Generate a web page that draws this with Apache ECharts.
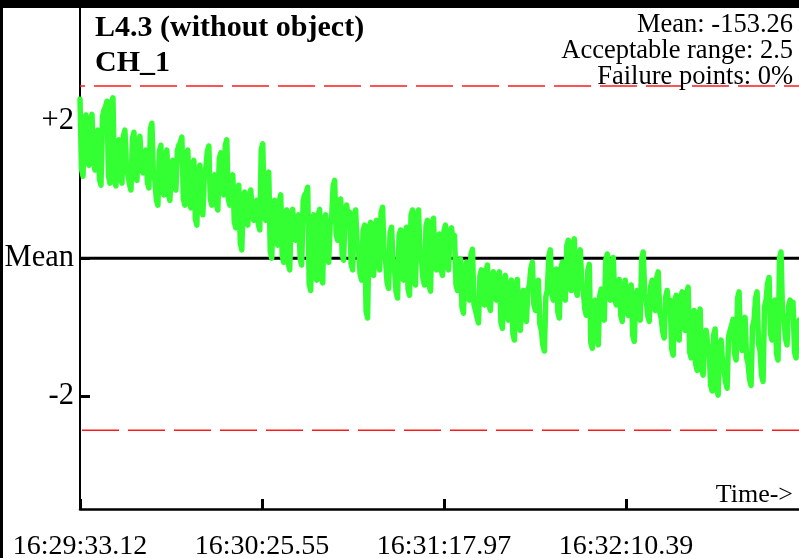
<!DOCTYPE html>
<html>
<head>
<meta charset="utf-8">
<script src="https://cdn.jsdelivr.net/npm/echarts@6/dist/echarts.min.js"></script>
<style>
html,body{margin:0;padding:0;background:#fff;}
#chart{width:799px;height:558px;}
</style>
</head>
<body>
<div id="chart"></div>
<script>
// ---- data ----
const titleLines = ['L4.3 (without object)', 'CH_1'];
const statLines = ['Mean: -153.26', 'Acceptable range: 2.5', 'Failure points: 0%'];
const meanValue = -153.26;
const acceptableRange = 2.5;
const totalSeconds = 207.12;
const timeTickValues = [0, 52.43, 104.85, 157.27];
const timeTickLabels = ['16:29:33.12', '16:30:25.55', '16:31:17.97', '16:32:10.39'];
const devTickValues = [-2, 0, 2];
const devTickLabels = ['-2', 'Mean', '+2'];
const deviations = [
 2.31, 1.30,1.19, 1.95,2.08, 1.42,1.35, 2.00,2.09, 1.40,1.28, 1.75,1.86, 1.15,1.06, 2.05,2.15, 2.20,2.28, 1.20,1.09, 2.25,2.33, 1.15,1.05, 1.65,1.72, 1.18,1.09, 1.78,1.86, 1.30,1.21, 1.08,0.99, 1.74,1.83, 1.22,1.13,
 1.70,1.77, 1.32,1.24, 1.50,1.57, 1.10,1.02, 1.88,1.96, 1.22,1.13, 0.85,0.77, 1.55,1.64, 1.00,0.92, 1.49,1.57, 0.93,0.84, 1.35,1.42, 1.07,0.99, 1.56,1.64, 1.68,1.76, 0.86,0.77, 1.48,1.57, 0.82,0.73, 1.35,1.42, 0.57,0.48,
 1.27,1.35, 0.72,0.63, 1.22,1.31, 1.55,1.63, 0.86,0.77, 1.13,1.21, 0.79,0.70, 1.45,1.53, 1.00,0.92, 1.64,1.72, 0.86,0.77, 1.12,1.21, 0.53,0.44, 0.98,1.06, 0.22,0.12, 0.88,0.96, 0.57,0.48, 0.91,0.99, 0.63,0.55, 0.76,0.84,
 0.50,0.41, 1.58,1.66, 0.64,0.55, 1.17,1.25, 0.10,0.00, 0.75,0.84, 0.28,0.19, 0.83,0.92, 0.04,-0.06, 0.62,0.70, -0.08,-0.17, 0.63,0.71, 0.34,0.26, 0.55,0.63, -0.01,-0.10, 0.84,0.92, 0.95,1.03, -0.37,-0.47, 0.55,0.63, -0.23,-0.32,
 0.63,0.71, -0.27,-0.36, 0.55,0.63, 0.03,-0.06, 0.50,0.58, 1.05,1.13, 0.35,0.26, 0.78,0.86, 0.06,-0.03, 0.69,0.77, 0.60,0.67, -0.08,-0.17, 0.62,0.70, 0.21,0.12, -0.23,-0.32, 0.40,0.48, -0.77,-0.87, 0.44,0.52, -0.16,-0.25, 0.47,0.55,
 -0.08,-0.17, 0.66,0.74, 0.06,-0.03, -0.35,-0.44, 0.37,0.45, -0.08,-0.17, -0.49,-0.58, 0.33,0.41, -0.23,-0.32, 0.37,0.45, -0.45,-0.54, 0.62,0.70, -0.30,-0.39, 0.62,0.70, 0.06,-0.03, -0.30,-0.39, 0.47,0.55, -0.39,-0.48, 0.50,0.58, -0.08,-0.17,
 0.27,0.35, -0.16,-0.25, 0.40,0.48, -0.08,-0.17, 0.36,0.44, 0.25,0.33, -0.38,-0.47, -0.10,-0.01, -0.71,-0.80, -0.15,-0.06, -0.52,-0.61, 0.05,0.13, -0.67,-0.76, -0.85,-0.94, -0.26,-0.17, -0.59,-0.68, -0.19,-0.10, -0.67,-0.76, -0.28,-0.20, -0.52,-0.61,
 -0.28,-0.20, -0.93,-1.02, -0.34,-0.25, -0.81,-0.90, -0.40,-0.32, -1.10,-1.19, -0.40,-0.31, -0.96,-1.05, -0.56,-0.47, -0.83,-0.92, -0.47,-0.39, -0.15,-0.06, -0.67,-0.76, -0.41,-0.32, -0.96,-1.05, -1.26,-1.35, -0.56,-0.47, 0.03,0.12, -0.52,-0.61, -0.25,-0.16,
 -0.78,-0.87, -0.15,-0.06, -0.52,-0.61, 0.18,0.26, -0.38,-0.47, 0.20,0.28, -0.45,-0.54, 0.04,0.12, -0.38,-0.47, -0.74,-0.83, -0.18,-0.09, -1.22,-1.31, -0.70,-0.61, -1.17,-1.26, -0.54,-0.45, -0.81,-0.90, -0.03,0.06, -0.52,-0.61, -0.08,0.01, -0.59,-0.68,
 -0.40,-0.31, -0.83,-0.92, -0.41,-0.32, -0.74,-0.83, -0.48,-0.39, -1.12,-1.21, -0.56,-0.47, -0.81,-0.90, 0.00,0.09, -0.52,-0.61, -0.83,-0.92, -0.41,-0.32, -0.67,-0.76, -0.29,-0.20, -0.78,-0.87, -1.07,-1.16, -0.56,-0.47, -0.70,-0.61, -1.32,-1.41, -0.63,-0.54,
 -1.10,-1.19, -0.58,-0.49, -0.96,-1.05, -0.51,-0.42, -1.36,-1.45, -0.85,-0.76, -1.54,-1.63, -0.83,-0.74, -1.61,-1.70, -1.14,-1.05, -1.25,-1.34, -1.84,-1.93, -1.12,-1.03, -1.90,-1.99, -1.28,-1.19, -1.54,-1.63, -1.80,-1.89, -1.14,-1.05, -0.98,-0.89, -1.39,-1.48,
 -0.58,-0.49, -1.25,-1.34, -0.95,-0.86, -1.44,-1.53, -1.76,-1.85, -0.99,-0.90, -0.58,-0.49, -1.25,-1.34, -1.70,-1.79, -0.70,-0.61, -0.37,-0.28, -1.10,-1.19, -0.70,-0.61, -1.39,-1.48, 0.00,0.09, -0.81,-0.90, -1.17,-1.26, -0.70,-0.61, -0.73,-0.64, -1.36,-1.45,
 -0.99,-0.90
];

// ---- chart ----
const FONT = '"Liberation Serif","Times New Roman",serif';
const chart = echarts.init(document.getElementById('chart'), null, {renderer: 'canvas'});
const step = totalSeconds / (deviations.length - 1);
const greenData = deviations.map((d, i) => [i * step, d]);
function labelFor(vals, labs) {
  return function (v) {
    for (let i = 0; i < vals.length; i++) if (Math.abs(vals[i] - v) < 1e-6) return labs[i];
    return '';
  };
}

const option = {
  animation: false,
  backgroundColor: '#ffffff',
  grid: {left: 80, right: 0, top: 8, bottom: 49, containLabel: false, outerBoundsMode: 'none'},
  xAxis: {
    type: 'value', min: 0, max: totalSeconds,
    axisLine: {show: true, onZero: false, lineStyle: {color: '#000', width: 2.5}},
    axisTick: {show: true, inside: true, length: 10, lineStyle: {color: '#000', width: 3}, customValues: timeTickValues},
    axisLabel: {show: true, customValues: timeTickValues, formatter: labelFor(timeTickValues, timeTickLabels),
      color: '#000', fontFamily: FONT, fontSize: 28, margin: 24},
    splitLine: {show: false}
  },
  yAxis: {
    type: 'value', min: -3.645, max: 3.635,
    axisLine: {show: true, onZero: false, lineStyle: {color: '#000', width: 2}},
    axisTick: {show: true, inside: true, length: 10, lineStyle: {color: '#000', width: 3}, customValues: devTickValues},
    axisLabel: {show: true, customValues: devTickValues, formatter: labelFor(devTickValues, devTickLabels),
      color: '#000', fontFamily: FONT, fontSize: 30.5, margin: 6},
    splitLine: {show: false}
  },
  series: [
    {type: 'line', data: [[0, acceptableRange], [totalSeconds, acceptableRange]], symbol: 'none', silent: true, z: 1,
      lineStyle: {color: '#ff1a1a', width: 1.5, type: [37, 9], dashOffset: 32}},
    {type: 'line', data: [[0, -acceptableRange], [totalSeconds, -acceptableRange]], symbol: 'none', silent: true, z: 1,
      lineStyle: {color: '#ff1a1a', width: 1.5, type: [37, 9], dashOffset: 44}},
    {type: 'line', data: [[0, 0], [totalSeconds, 0]], symbol: 'none', silent: true, z: 2,
      lineStyle: {color: '#000', width: 3}},
    {type: 'line', data: greenData, symbol: 'none', silent: true, z: 3, clip: true, sampling: false,
      lineStyle: {color: '#33ff33', width: 5.5, cap: 'round', join: 'round'}}
  ],
  graphic: [
    {type: 'rect', left: 0, top: 0, z: 100, shape: {width: 799, height: 8}, style: {fill: '#000'}},
    {type: 'rect', left: 0, top: 0, z: 100, shape: {width: 3, height: 558}, style: {fill: '#000'}},
    {type: 'text', x: 95, y: 11, z: 100, style: {text: titleLines.join('\n'), fill: '#000',
      font: 'bold 30px ' + FONT, lineHeight: 35, align: 'left', verticalAlign: 'top'}},
    {type: 'text', x: 793, y: 12, z: 100, style: {text: statLines.join('\n'), fill: '#000',
      font: '26.5px ' + FONT, lineHeight: 26, align: 'right', verticalAlign: 'top'}},
    {type: 'text', x: 793, y: 482, z: 100, style: {text: 'Time->', fill: '#000',
      font: '26px ' + FONT, align: 'right', verticalAlign: 'top'}}
  ]
};
chart.setOption(option);
</script>
</body>
</html>
